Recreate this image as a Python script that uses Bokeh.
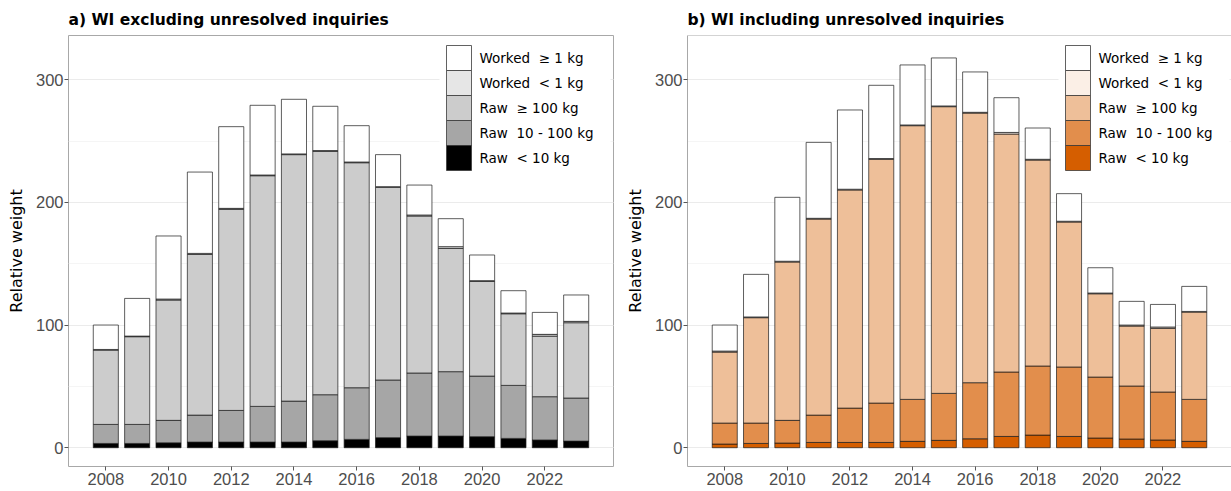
from bokeh.plotting import figure
from bokeh.layouts import row
from bokeh.models import (ColumnDataSource, Range1d, FixedTicker, SingleIntervalTicker,
                          BoxAnnotation, Label, Span)
from bokeh.embed import file_html
from bokeh.resources import INLINE

years = list(range(2008, 2024))
year_ticks = [2008, 2010, 2012, 2014, 2016, 2018, 2020, 2022]

# stacking order, bottom to top
stack_keys = ["raw_lt10", "raw_10_100", "raw_ge100", "worked_lt1", "worked_ge1"]
stack_labels = ["Raw\u00a0 < 10 kg", "Raw\u00a0 10 - 100 kg", "Raw\u00a0 \u2265 100 kg",
                "Worked\u00a0 < 1 kg", "Worked\u00a0 \u2265 1 kg"]

# a) WI excluding unresolved inquiries
a_raw_lt10 = [3.5, 3.5, 4.0, 4.6, 4.6, 4.6, 4.6, 5.7, 6.8, 8.2, 9.5, 9.5, 9.0, 7.6, 6.3, 5.4]
a_raw_10_100 = [15.5, 15.5, 18.3, 22.0, 25.8, 29.1, 33.4, 37.5, 42.1, 47.0, 51.4, 52.5, 49.4, 43.2, 35.3, 35.1]
a_raw_ge100 = [60.6, 71.5, 98.1, 131.0, 163.9, 188.0, 200.9, 198.4, 183.4, 157.0, 128.0, 100.5, 77.2, 58.4, 49.4, 61.4]
a_worked_lt1 = [0.5, 0.5, 0.8, 0.8, 0.8, 0.6, 0.6, 0.6, 0.6, 0.6, 0.8, 1.4, 0.6, 0.6, 1.4, 1.1]
a_worked_ge1 = [19.9, 30.7, 51.4, 66.3, 66.6, 56.8, 44.5, 36.1, 29.6, 26.1, 24.4, 22.8, 20.9, 18.2, 17.9, 21.5]

# b) WI including unresolved inquiries
b_raw_lt10 = [3.0, 3.5, 3.8, 4.3, 4.3, 4.3, 5.2, 6.0, 7.3, 9.2, 10.3, 9.2, 7.9, 7.1, 6.3, 5.2]
b_raw_10_100 = [17.1, 16.6, 18.5, 22.3, 28.0, 32.1, 34.2, 38.3, 45.7, 52.5, 56.3, 56.6, 49.7, 43.2, 39.1, 34.2]
b_raw_ge100 = [57.9, 85.9, 129.1, 159.8, 177.8, 198.7, 223.1, 233.7, 219.8, 194.0, 167.9, 118.2, 67.9, 48.9, 51.9, 71.2]
b_worked_lt1 = [0.8, 0.6, 0.6, 0.6, 0.6, 0.6, 0.6, 0.6, 0.6, 1.3, 0.6, 0.6, 0.6, 0.8, 1.1, 0.5]
b_worked_ge1 = [21.2, 34.7, 52.1, 61.9, 64.6, 59.7, 48.9, 39.1, 32.9, 28.3, 25.5, 22.5, 20.6, 19.3, 18.4, 20.4]

grey_palette = ["#000000", "#A6A6A6", "#CCCCCC", "#E6E6E6", "#FFFFFF"]
orange_palette = ["#D55E00", "#E28E4C", "#EEBF99", "#FBEFE6", "#FFFFFF"]

TICK_FONT = "Liberation Sans"
TEXT_FONT = "DejaVu Sans"
FRAME_H = 431  # 491 - 35 top - 25 bottom


def add_key(p, labels, palette):
    """Legend drawn inside the top-right of the frame (pixel offsets from frame corner)."""
    top = FRAME_H - 10
    row_h = 25
    n = len(labels)
    p.add_layout(BoxAnnotation(left=371, right=542, top=top + 6, bottom=top - n * row_h - 6,
                               left_units="screen", right_units="screen",
                               top_units="screen", bottom_units="screen",
                               fill_color="#FFFFFF", fill_alpha=1.0, line_color=None))
    for i, (lab, col) in enumerate(zip(labels[::-1], palette[::-1])):
        y_top = top - i * row_h
        p.add_layout(BoxAnnotation(left=378, right=403, top=y_top, bottom=y_top - row_h,
                                   left_units="screen", right_units="screen",
                                   top_units="screen", bottom_units="screen",
                                   fill_color=col, fill_alpha=1.0,
                                   line_color="#3A3A3A", line_width=0.8, line_alpha=1.0))
        p.add_layout(Label(x=411, y=y_top - row_h / 2, x_units="screen", y_units="screen",
                           text=lab, text_baseline="middle", text_align="left",
                           text_font=TEXT_FONT, text_font_size="13.5px",
                           text_color="#000000"))


def make_panel(title, series, palette, width, border_left, border_right, full_outline):
    source = ColumnDataSource(dict(year=years, **dict(zip(stack_keys, series))))
    p = figure(width=width, height=491, title=title,
               x_range=Range1d(2006.81, 2024.19), y_range=Range1d(-15.3, 336.0),
               min_border_left=border_left, min_border_right=border_right,
               min_border_top=35, min_border_bottom=25,
               output_backend="svg", toolbar_location=None)

    p.title.text_font = TEXT_FONT
    p.title.text_font_size = "15.5px"
    p.title.text_font_style = "bold"
    p.title.text_color = "#000000"
    p.title.align = "left"
    p.title.standoff = 14

    p.vbar_stack(stack_keys, x="year", width=0.8, source=source,
                 fill_color=palette, line_color="#1A1A1A", line_width=0.7)

    # axes
    p.xaxis.ticker = FixedTicker(ticks=year_ticks)
    p.yaxis.ticker = SingleIntervalTicker(interval=100, num_minor_ticks=2)
    for ax in (p.xaxis, p.yaxis):
        ax.major_label_text_font = TICK_FONT
        ax.major_label_text_font_size = "16.5px"
        ax.major_label_text_color = "#4D4D4D"
        ax.major_tick_line_color = "#555555"
        ax.major_tick_in = 0
        ax.major_tick_out = 4
        ax.minor_tick_out = 0
        ax.minor_tick_in = 0
    p.xaxis.major_label_standoff = 2
    p.yaxis.major_label_standoff = 1
    p.yaxis.axis_label = "Relative weight"
    p.yaxis.axis_label_text_font = TEXT_FONT
    p.yaxis.axis_label_text_font_size = "16px"
    p.yaxis.axis_label_text_font_style = "normal"
    p.yaxis.axis_label_text_color = "#000000"
    p.yaxis.axis_label_standoff = 7

    # grid
    p.xgrid.grid_line_color = None
    p.ygrid.grid_line_color = "#EBEBEB"
    p.ygrid.minor_grid_line_color = "#F5F5F5"

    border = "#A8A8A8"
    if full_outline:
        p.outline_line_color = border
        p.xaxis.axis_line_color = None
        p.yaxis.axis_line_color = None
    else:
        p.outline_line_color = None
        p.xaxis.axis_line_color = border
        p.yaxis.axis_line_color = border
        p.add_layout(Span(location=336.0, dimension="width", line_color=border, line_width=1))

    add_key(p, stack_labels, palette)
    return p


left = make_panel("a) WI excluding unresolved inquiries",
                  [a_raw_lt10, a_raw_10_100, a_raw_ge100, a_worked_lt1, a_worked_ge1],
                  grey_palette, 620, 68, 7, True)
right = make_panel("b) WI including unresolved inquiries",
                   [b_raw_lt10, b_raw_10_100, b_raw_ge100, b_worked_lt1, b_worked_ge1],
                   orange_palette, 611, 67, 0, False)

layout = row(left, right)
open("out.html", "w").write(file_html(layout, INLINE))
